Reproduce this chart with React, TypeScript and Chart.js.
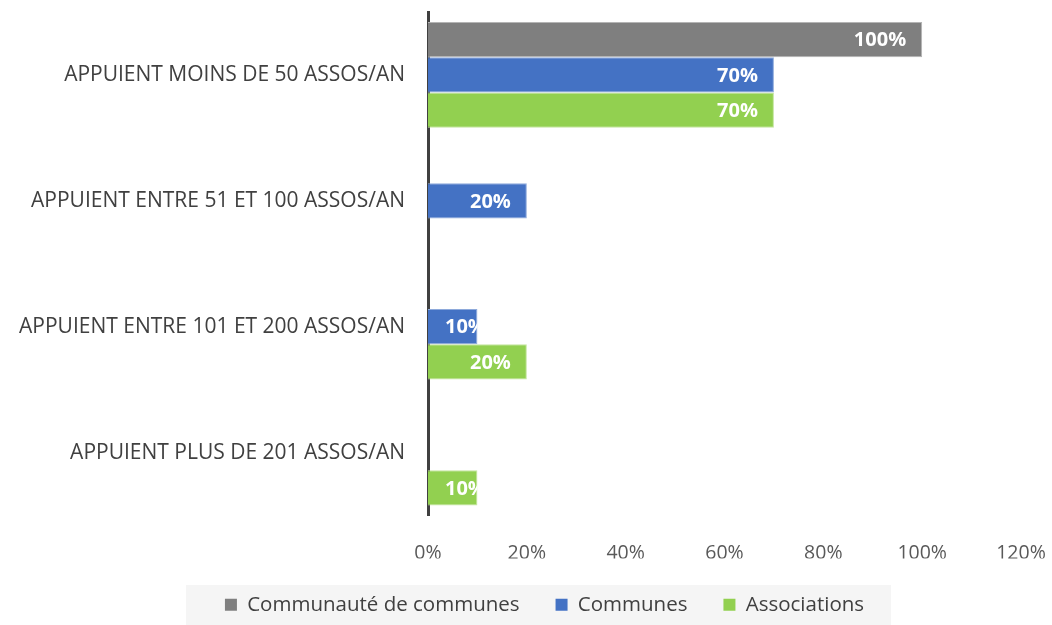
import React, { useEffect, useRef } from "react";
import { Chart, registerables } from "chart.js";

Chart.register(...registerables);

const categories = [
  "APPUIENT MOINS DE 50 ASSOS/AN",
  "APPUIENT ENTRE 51 ET 100 ASSOS/AN",
  "APPUIENT ENTRE 101 ET 200 ASSOS/AN",
  "APPUIENT PLUS DE 201 ASSOS/AN",
];
const communauteValues = [100, null, null, null];
const communesValues = [70, 20, 10, null];
const associationsValues = [70, null, 20, 10];
const seriesNames = ["Communauté de communes", "Communes", "Associations"];
const seriesColors = ["#7f7f7f", "#4472c4", "#92d050"];
const seriesBorders = ["#b4b4b4", "#8eaadb", "#c4e59e"];
const xTicks = [0, 20, 40, 60, 80, 100, 120];

const FONT = "'Open Sans', Lato, sans-serif";

const labelPlugin = {
  id: "barLabels",
  afterDatasetsDraw(chart: any) {
    const ctx = chart.ctx;
    chart.data.datasets.forEach((ds: any, di: number) => {
      const meta = chart.getDatasetMeta(di);
      meta.data.forEach((bar: any, i: number) => {
        const v = ds.data[i];
        if (v == null || v === 0) return;
        const { x, y, base, height } = bar.getProps(["x", "y", "base", "height"], true);
        const txt = `${v}%`;
        ctx.save();
        ctx.font = `bold 20px ${FONT}`;
        const w = ctx.measureText(txt).width;
        const left = Math.max(base + 17, x - 16 - w);
        ctx.beginPath();
        ctx.rect(base, y - height / 2, x - base, height);
        ctx.clip();
        ctx.fillStyle = "#ffffff";
        ctx.textAlign = "left";
        ctx.textBaseline = "middle";
        ctx.fillText(txt, left, y + 1);
        ctx.restore();
      });
    });
  },
};

const LEGEND_SHIFT = 34;

const legendPlugin = {
  id: "legendBg",
  afterLayout(chart: any) {
    const lg = chart.legend;
    if (!lg) return;
    lg.left += LEGEND_SHIFT;
    lg.right += LEGEND_SHIFT;
    if (lg.legendHitBoxes) {
      lg.legendHitBoxes.forEach((b: any) => {
        b.left += LEGEND_SHIFT;
      });
    }
  },
  beforeDraw(chart: any) {
    const lg = chart.legend;
    if (!lg || !lg.legendHitBoxes || !lg.legendHitBoxes.length) return;
    const boxes = lg.legendHitBoxes;
    const left = Math.min(...boxes.map((b: any) => b.left)) - 39;
    const right = Math.max(...boxes.map((b: any) => b.left + b.width)) + 27;
    const ctx = chart.ctx;
    ctx.save();
    ctx.fillStyle = "#f5f5f5";
    ctx.fillRect(left, 585, right - left, chart.height - 585);
    ctx.restore();
  },
};

export default function App() {
  const ref = useRef<HTMLCanvasElement>(null);
  useEffect(() => {
    if (!ref.current) return;
    const datasets = [communauteValues, communesValues, associationsValues].map((d, i) => ({
      label: seriesNames[i],
      data: d,
      backgroundColor: seriesColors[i],
      borderColor: seriesBorders[i],
      borderWidth: 1,
      categoryPercentage: 0.84,
      barPercentage: 1.0,
    }));
    const chart = new Chart(ref.current, {
      type: "bar",
      data: { labels: categories, datasets },
      options: {
        indexAxis: "y",
        animation: false,
        responsive: false,
        maintainAspectRatio: false,
        layout: { padding: { left: 0, right: 31, top: 12, bottom: 0 } },
        plugins: {
          legend: {
            position: "bottom",
            labels: {
              color: "#404040",
              font: { family: FONT, size: 20.5 },
              boxWidth: 12,
              boxHeight: 12,
              padding: 36,
              generateLabels: (c: any) =>
                c.data.datasets.map((ds: any, i: number) => ({
                  text: ds.label,
                  fillStyle: seriesColors[i],
                  strokeStyle: seriesColors[i],
                  lineWidth: 0,
                  datasetIndex: i,
                  fontColor: "#404040",
                })),
            },
          },
          tooltip: { enabled: false },
        },
        scales: {
          x: {
            min: 0,
            max: 120,
            grid: { display: false, drawTicks: false },
            border: { display: false },
            afterBuildTicks: (s: any) => {
              s.ticks = xTicks.map((v) => ({ value: v }));
            },
            afterFit: (s: any) => {
              s.paddingLeft = 0;
              s.paddingRight = 0;
              s.height = 43;
            },
            ticks: {
              color: "#595959",
              font: { family: FONT, size: 19.5 },
              padding: 26,
              callback: (v: any) => `${v}%`,
            },
          },
          y: {
            grid: { display: false, drawTicks: false },
            border: { display: true, color: "#404040", width: 3 },
            afterFit: (s: any) => {
              s.width = 428;
              s.paddingTop = 0;
              s.paddingBottom = 0;
            },
            ticks: {
              color: "#404040",
              font: { family: FONT, size: 21 },
              padding: 23,
            },
          },
        },
      },
      plugins: [labelPlugin, legendPlugin],
    });
    return () => chart.destroy();
  }, []);
  return (
    <div style={{ position: "fixed", left: 0, top: 0, width: 1052, height: 625, background: "#fff" }}>
      <canvas ref={ref} width={1052} height={625} style={{ width: 1052, height: 625 }} />
    </div>
  );
}
